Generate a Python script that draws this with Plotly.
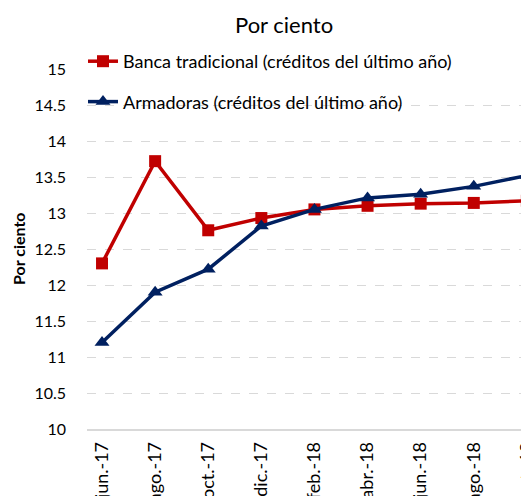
import plotly.graph_objects as go

categories = ["jun.-17", "ago.-17", "oct.-17", "dic.-17", "feb.-18",
              "abr.-18", "jun.-18", "ago.-18", "oct.-18"]
banca = [12.30, 13.72, 12.76, 12.93, 13.05, 13.10, 13.13, 13.14, 13.17]
armadoras = [11.20, 11.90, 12.22, 12.82, 13.05, 13.21, 13.26, 13.37, 13.52]
y_ticks = [10, 10.5, 11, 11.5, 12, 12.5, 13, 13.5, 14, 14.5, 15]

FONT = "Lato"
RED = "#C00000"
BLUE = "#002060"

# page body has an 8px default margin; figure coordinates = screen - 8
W, H = 529, 488
L, R, T, B = 79, 8, 61, 67
PW, PH = W - L - R, H - T - B

def px_x(p):
    return (p - L) / PW

def px_y(p):
    return (H - B - p) / PH

fig = go.Figure()
fig.add_trace(go.Scatter(
    x=categories, y=banca, mode="lines+markers",
    name="Banca tradicional (créditos del último año)",
    legendgroup="a",
    line=dict(color=RED, width=3.5),
    marker=dict(symbol="square", size=12, color=RED),
    cliponaxis=False,
))
fig.add_trace(go.Scatter(
    x=categories, y=armadoras, mode="lines+markers",
    name="Armadoras (créditos del último año)",
    legendgroup="b",
    line=dict(color=BLUE, width=3.5),
    marker=dict(symbol="triangle-up", size=13, color=BLUE),
    cliponaxis=False,
))

fig.update_layout(
    width=W, height=H,
    margin=dict(l=L, r=R, t=T, b=B),
    paper_bgcolor="white", plot_bgcolor="white",
    font=dict(family=FONT, size=16, color="#000000"),
    showlegend=True,
    legend=dict(
        x=px_x(75), y=px_y(35), xanchor="left", yanchor="top",
        bgcolor="rgba(0,0,0,0)", font=dict(family=FONT, size=18, color="#000000"),
        traceorder="grouped", tracegroupgap=14, itemwidth=30,
    ),
    xaxis=dict(
        type="category", categoryorder="array", categoryarray=categories,
        range=[-0.283, 8.04], tickangle=-90, showgrid=False,
        showline=True, linecolor="#d9d9d9", linewidth=1.5,
        ticks="", ticklabelstandoff=4, automargin=False,
        tickfont=dict(family=FONT, size=18, color="#000000"),
    ),
    yaxis=dict(
        range=[10, 15], tickmode="array", tickvals=y_ticks,
        ticktext=[f"{v:g}" for v in y_ticks],
        showgrid=True, gridcolor="#d9d9d9", griddash="dash", gridwidth=1,
        zeroline=False, showline=False, ticks="", ticklabelstandoff=20,
        automargin=False,
        tickfont=dict(family=FONT, size=16, color="#000000"),
    ),
    annotations=[
        dict(text="Por ciento", xref="paper", yref="paper",
             x=px_x(276), y=px_y(16), xanchor="center", yanchor="middle",
             showarrow=False, font=dict(family=FONT, size=22, color="#000000")),
        dict(text="<b>Por ciento</b>", xref="paper", yref="paper",
             x=px_x(10), y=0.5, xanchor="center", yanchor="middle",
             textangle=-90, showarrow=False,
             font=dict(family=FONT, size=16, color="#000000")),
    ],
)

fig.write_html("out.html")
